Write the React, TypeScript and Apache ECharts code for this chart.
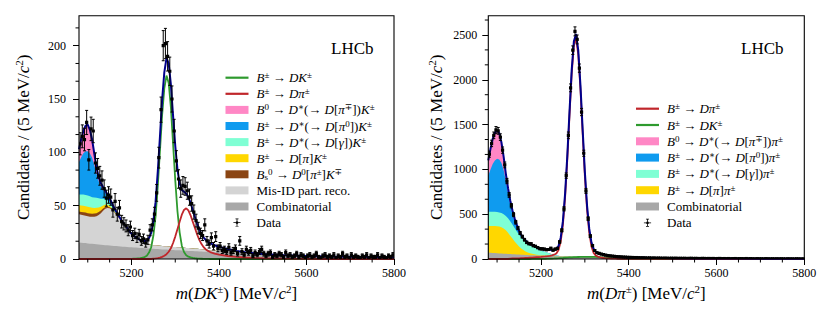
import React, { useEffect, useRef } from "react";
import * as echarts from "echarts";

const SERIF = '"Liberation Serif", "DejaVu Serif", serif';

// ---------------- axis ticks ----------------
const massMin = 5080;
const massMax = 5800;
const massTicks = [5200, 5400, 5600, 5800];
const massMinorTicks = [5100, 5150, 5250, 5300, 5350, 5450, 5500, 5550, 5650, 5700, 5750];
const dkYMax = 228.1;
const dkYTicks = [0, 50, 100, 150, 200];
const dkYMinorTicks = [16.67, 33.33, 66.67, 83.33, 116.67, 133.33, 166.67, 183.33, 216.67];
const dpiYMax = 2715;
const dpiYTicks = [0, 500, 1000, 1500, 2000, 2500];
const dpiYMinorTicks = [166.7, 333.3, 666.7, 833.3, 1166.7, 1333.3, 1666.7, 1833.3, 2166.7, 2333.3, 2666.7];

// ---------------- data (5 MeV bins, first centre 5082.5) ----------------
const binFirstCentre = 5082.5;
const binWidth = 5;
const dkCounts = [
  108, 115, 112, 128, 93, 122, 120, 90, 85, 78,
  74, 66, 57, 60, 58, 46, 54, 42, 48, 35,
  33, 31, 27, 30, 22, 24, 20, 23, 17, 19,
  15, 18, 27, 32, 42, 62, 95, 140, 200, 202,
  190, 176, 150, 120, 92, 75, 66, 69, 68, 64,
  58, 52, 44, 36, 29, 24, 22, 32, 17, 14,
  20, 12, 21, 10, 12, 8, 9, 7, 11, 6,
  8, 10, 5, 17, 7, 4, 9, 6, 8, 3,
  6, 4, 7, 9, 5, 3, 5, 6, 2, 4,
  3, 5, 4, 2, 6, 3, 4, 2, 3, 5,
  2, 4, 3, 1, 3, 4, 2, 3, 5, 2,
  1, 3, 4, 2, 3, 2, 4, 1, 3, 2,
  5, 2, 3, 1, 4, 2, 3, 2, 1, 3,
  2, 4, 1, 3, 2, 2, 4, 1, 3, 2,
  1, 3, 2, 4,
];
const dpiCounts = [
  1170, 1290, 1380, 1440, 1430, 1360, 1215, 1050, 870, 715,
  595, 495, 410, 345, 290, 250, 215, 185, 172, 168,
  150, 140, 128, 115, 112, 110, 103, 106, 120, 98,
  110, 118, 190, 320, 560, 930, 1380, 1910, 2330, 2540,
  2450, 2130, 1640, 1180, 760, 450, 255, 150, 95, 70,
  62, 55, 48, 43, 38, 35, 33, 30, 27, 25,
  24, 22, 21, 19, 18, 17, 16, 16, 15, 14,
  14, 13, 12, 13, 11, 12, 10, 11, 10, 9,
  10, 9, 8, 9, 8, 9, 7, 8, 7, 8,
  6, 7, 8, 6, 7, 6, 5, 7, 6, 5,
  6, 5, 6, 4, 5, 6, 4, 5, 4, 5,
  3, 4, 5, 3, 4, 4, 3, 5, 3, 4,
  3, 2, 4, 3, 3, 2, 4, 3, 2, 3,
  2, 3, 2, 3, 2, 1, 3, 2, 2, 1,
  3, 2, 1, 2,
];

// ---------------- fit components (sampled every 5 MeV to 5400, then tail masses) ----------------
const fineStep = 5;
const fineEnd = 5400;
const tailMasses = [5420, 5440, 5460, 5480, 5500, 5550, 5600, 5650, 5700, 5750, 5800];

// m(DK) panel
const dkCombinatorial = [
  15.5, 15.3, 15.1, 14.9, 14.6, 14.4, 14.2, 14.0, 13.8, 13.6,
  13.4, 13.2, 13.0, 12.8, 12.6, 12.5, 12.3, 12.1, 11.9, 11.8,
  11.6, 11.4, 11.3, 11.1, 11.0, 10.8, 10.7, 10.5, 10.4, 10.2,
  10.1, 9.9, 9.8, 9.7, 9.5, 9.4, 9.3, 9.1, 9.0, 8.9,
  8.8, 8.6, 8.5, 8.4, 8.3, 8.2, 8.1, 7.9, 7.8, 7.7,
  7.6, 7.5, 7.4, 7.3, 7.2, 7.1, 7.0, 6.9, 6.8, 6.7,
  6.6, 6.5, 6.4, 6.3, 6.2,
  5.6, 5.1, 4.7, 4.3, 4.0,
  3.3, 2.8, 2.4, 2.1, 1.9, 1.7,
];
const dkMisId = [
  26.5, 26.2, 26.0, 25.7, 25.4, 25.3, 25.3, 25.6, 26.2, 27.6,
  29.6, 32.0, 34.0, 34.9, 34.9, 33.8, 31.7, 29.5, 27.1, 24.7,
  22.4, 20.0, 17.7, 15.0, 12.5, 10.8, 9.3, 7.9, 6.6, 5.7,
  4.9, 4.3, 3.9, 3.7, 3.5, 3.4, 3.3, 3.25, 3.2, 3.15,
  3.1, 3.05, 3.0, 2.95, 2.9, 2.85, 2.8, 2.75, 2.7, 2.65,
  2.6, 2.55, 2.5, 2.4, 2.3, 2.2, 2.1, 2.0, 1.9, 1.8,
  1.7, 1.6, 1.5, 1.4, 1.3,
  0.9, 0.5, 0.3, 0.1,
];
const dkBs = [2.5, 2.6, 2.8, 2.9, 3.0, 3.0, 3.0, 3.0, 3.0, 2.8, 2.5, 2.2, 1.8, 1.4, 1.0, 0.7, 0.5, 0.35, 0.2, 0.1, 0];
const dkDpiK = [6.0, 6.0, 6.0, 6.0, 6.0, 5.8, 5.5, 5.3, 5.0, 4.3, 3.5, 2.8, 2.2, 1.7, 1.2, 0.9, 0.6, 0.45, 0.3, 0.2, 0.1, 0.05, 0];
const dkDstGammaK = [10.0, 10.3, 10.5, 10.5, 10.5, 10.3, 10.0, 9.8, 9.5, 8.6, 7.5, 6.2, 5.0, 4.0, 3.0, 2.2, 1.5, 1.0, 0.7, 0.5, 0.3, 0.2, 0.1, 0.05, 0];
const dkDstPi0K = [30.5, 35, 38.7, 41, 41.5, 40, 37, 30, 22.5, 16, 11.5, 8.5, 6, 4.2, 2.8, 1.8, 1.0, 0.7, 0.4, 0.2, 0.1];
const dkB0DstK = [12, 17, 21, 24, 25, 22, 17, 11, 5.5, 4, 3, 2.5, 2, 1.6, 1.2, 0.9, 0.6, 0.45, 0.3, 0.2, 0.1];
const dkSignalStart = 5200;
const dkSignal = [
  0.2, 0.3, 0.4, 0.6, 0.8, 1.2, 1.8, 3, 6, 11,
  22, 40, 68, 101, 135, 160, 172, 165, 142, 108,
  74, 45, 25, 12.5, 6.5, 3.5, 2.2, 1.5, 1.0, 0.7,
  0.5, 0.35, 0.25, 0.15, 0.1, 0.05,
];
const dkMisIdPiStart = 5250;
const dkMisIdPi = [
  0.3, 0.5, 0.8, 1.3, 2.0, 3.0, 4.5, 6.8, 10, 15,
  21, 28, 35, 41.5, 46, 47.5, 45.5, 41, 35, 29,
  23, 18, 14, 11, 9, 7.6, 6.5, 5.7, 5.0, 4.5, 4.0,
  2.8, 2.0, 1.4, 1.0, 0.7,
  0.3, 0.1,
];

// m(Dpi) panel
const dpiCombinatorial = [
  72, 70, 68, 66, 64, 62.5, 61, 59.5, 58, 56.5,
  55, 53.5, 52, 50.5, 49, 47.7, 46.5, 45.2, 44, 43,
  42, 41, 40, 39, 38, 37, 36, 35, 34, 33,
  32, 31.2, 30.5, 29.7, 29, 28.2, 27.5, 26.7, 26, 25.4,
  24.8, 24.1, 23.5, 22.9, 22.4, 21.8, 21.3, 20.8, 20.3, 19.8,
  19.3, 18.8, 18.4, 17.9, 17.5, 17.1, 16.7, 16.3, 15.9, 15.5,
  15.2, 14.8, 14.5, 14.1, 13.8,
  12.5, 11.4, 10.3, 9.4, 8.5,
  6.7, 5.3, 4.2, 3.3, 2.6, 2.0,
];
const dpiDpiPi = [
  295, 298, 300, 301, 302, 299.5, 294, 280.5, 262, 235.5,
  205, 174.5, 143, 115.5, 91, 70.3, 53.5, 39.8, 28, 21,
  16, 11, 8, 6, 4, 3, 2, 1.5, 1, 0.7,
  0.5, 0.3, 0.2, 0.2, 0.1,
];
const dpiDstGammaPi = [
  160, 160, 160, 160, 159, 158, 157, 160, 160, 163,
  160, 157, 150, 142, 132, 122, 112, 103, 91, 86,
  81, 75, 65, 56, 50, 45, 40, 33.5, 27, 19.3,
  12.5, 7.5, 4.3, 2.1, 1.4, 1.0, 0.7, 0.5, 0.4, 0.4,
  0.3, 0.3, 0.2, 0.2, 0.1,
];
const dpiDstPi0Pi = [
  403, 472, 532, 573, 595, 590, 558, 490, 390, 285,
  190, 120, 75, 45, 25, 13, 7, 4, 3, 2,
  1, 1, 1, 1, 1, 0.5, 0.5, 0.5, 0.5, 0.5,
  0.3,
];
const dpiB0DstPi = [
  170, 230, 280, 310, 315, 295, 230, 150, 80, 50,
  38, 32, 27, 20, 13, 7, 4, 2.5, 1.5, 0.8,
  0.4, 0.2,
];
const dpiSignalStart = 5130;
const dpiSignal = [
  5, 6, 7, 7.5, 8, 9, 10, 11.5, 13, 14.5,
  16, 18, 20, 22, 24, 26.5, 29, 32, 36, 41,
  48, 62, 100, 195, 380, 687, 1107, 1598, 2063, 2384,
  2465, 2280, 1888, 1398, 927, 550, 292, 140, 68, 38,
  26, 19, 14, 10.5, 8, 6.5, 5, 4, 3.3, 2.8,
  2.4, 2.1, 1.8, 1.6, 1.4,
  1, 0.7, 0.5, 0.4, 0.3,
  0.2, 0.1,
];
const dpiMisIdKStart = 5180;
const dpiMisIdK = [
  0.5, 0.7, 1, 1.3, 1.7, 2.2, 2.8, 3.5, 4.3, 5.3,
  6.4, 7.7, 9, 10.5, 12, 13.7, 15.3, 17, 18.6, 20,
  21.3, 22.4, 23.3, 24, 24.5, 24.8, 24.8, 24.5, 24, 23,
  22, 20.5, 19, 17.3, 15.5, 13.8, 12, 10.4, 9, 7.7,
  6.5, 5.5, 4.6, 3.8, 3.2,
  1.6, 0.8, 0.4, 0.2, 0.1,
];

// ---------------- names & colours ----------------
const N_DK = "B± → DK±";
const N_DPI = "B± → Dπ±";
const N_B0K = "B0 → D*(→ D[π∓])K±";
const N_PI0K = "B± → D*(→ D[π0])K±";
const N_GAMK = "B± → D*(→ D[γ])K±";
const N_DPIK = "B± → D[π]K±";
const N_BS = "Bs0 → D0[π±]K∓";
const N_MISID = "Mis-ID part. reco.";
const N_COMB = "Combinatorial";
const N_DATA = "Data";
const N_B0P = "B0 → D*(→ D[π∓])π±";
const N_PI0P = "B± → D*(→ D[π0])π±";
const N_GAMP = "B± → D*(→ D[γ])π±";
const N_DPIP = "B± → D[π]π±";

const richLabel: Record<string, string> = {
  [N_DK]: "{i|B}{p|±} → {i|DK}{p|±}",
  [N_DPI]: "{i|B}{p|±} → {i|Dπ}{p|±}",
  [N_B0K]: "{i|B}{p|0} → {i|D}{p|∗}(→ {i|D}[{i|π}{p|∓}]){i|K}{p|±}",
  [N_PI0K]: "{i|B}{p|±} → {i|D}{p|∗}(→ {i|D}[{i|π}{p|0}]){i|K}{p|±}",
  [N_GAMK]: "{i|B}{p|±} → {i|D}{p|∗}(→ {i|D}[{i|γ}]){i|K}{p|±}",
  [N_DPIK]: "{i|B}{p|±} → {i|D}[{i|π}]{i|K}{p|±}",
  [N_BS]: "{i|B}{b|s}{p|0} → {i|D}{p|0}[{i|π}{p|±}]{i|K}{p|∓}",
  [N_B0P]: "{i|B}{p|0} → {i|D}{p|∗}(→ {i|D}[{i|π}{p|∓}]){i|π}{p|±}",
  [N_PI0P]: "{i|B}{p|±} → {i|D}{p|∗}(→ {i|D}[{i|π}{p|0}]){i|π}{p|±}",
  [N_GAMP]: "{i|B}{p|±} → {i|D}{p|∗}(→ {i|D}[{i|γ}]){i|π}{p|±}",
  [N_DPIP]: "{i|B}{p|±} → {i|D}[{i|π}]{i|π}{p|±}",
};

const COL = {
  pink: "#ff87c5",
  blue: "#0f9bef",
  aqua: "#7fffd4",
  yellow: "#ffd700",
  brown: "#8b4513",
  misid: "#d4d4d4",
  comb: "#a8a8a8",
  green: "#2e9a2e",
  red: "#c0262b",
  navy: "#00008b",
};

// ---------------- helpers ----------------
const modelMasses: number[] = [];
for (let m = massMin; m <= fineEnd; m += fineStep) modelMasses.push(m);
modelMasses.push(...tailMasses);

function align(values: number[], start: number = massMin): number[] {
  const s = modelMasses.indexOf(start);
  return modelMasses.map((_, j) => (j >= s && j - s < values.length ? values[j - s] : 0));
}

type Layer = { name: string; color: string; values: number[] };

function buildPanel(
  xIdx: number,
  yIdx: number,
  layers: Layer[],
  lines: Layer[],
  counts: number[],
  yMinor: number[]
) {
  const series: any[] = [];
  let run = modelMasses.map(() => 0);
  const cumul: number[][] = [];
  for (const l of layers) {
    run = run.map((v, j) => v + l.values[j]);
    cumul.push(run);
  }
  for (let k = layers.length - 1; k >= 0; k--) {
    series.push({
      type: "line",
      name: layers[k].name,
      xAxisIndex: xIdx,
      yAxisIndex: yIdx,
      data: modelMasses.map((m, j) => [m, cumul[k][j]]),
      symbol: "none",
      lineStyle: { width: 0, color: layers[k].color },
      itemStyle: { color: layers[k].color },
      areaStyle: { color: layers[k].color, opacity: 1 },
      silent: true,
      z: 2,
    });
  }
  let total = run.slice();
  for (const l of lines) {
    total = total.map((v, j) => v + l.values[j]);
    series.push({
      type: "line",
      name: l.name,
      xAxisIndex: xIdx,
      yAxisIndex: yIdx,
      data: modelMasses.map((m, j) => [m, l.values[j]]),
      symbol: "none",
      lineStyle: { width: 1.8, color: l.color },
      itemStyle: { color: l.color },
      silent: true,
      z: 3,
    });
  }
  series.push({
    type: "line",
    name: "Total fit",
    xAxisIndex: xIdx,
    yAxisIndex: yIdx,
    data: modelMasses.map((m, j) => [m, total[j]]),
    symbol: "none",
    lineStyle: { width: 2, color: COL.navy },
    itemStyle: { color: COL.navy },
    silent: true,
    z: 4,
  });
  series.push({
    type: "custom",
    name: N_DATA,
    xAxisIndex: xIdx,
    yAxisIndex: yIdx,
    itemStyle: { color: "#000" },
    data: counts.map((n, i) => [binFirstCentre + i * binWidth, n, Math.sqrt(n)]),
    encode: { x: 0, y: 1 },
    clip: true,
    silent: true,
    z: 5,
    renderItem: (_p: any, api: any) => {
      const x = api.value(0);
      const y = api.value(1);
      const e = api.value(2);
      const c = api.coord([x, y]);
      const t = api.coord([x, y + e]);
      const b = api.coord([x, Math.max(0, y - e)]);
      const l = api.coord([x - binWidth / 2, y]);
      const r = api.coord([x + binWidth / 2, y]);
      const st = { stroke: "#000", lineWidth: 1 };
      return {
        type: "group",
        children: [
          { type: "line", shape: { x1: c[0], y1: t[1], x2: c[0], y2: b[1] }, style: st },
          { type: "line", shape: { x1: c[0] - 1.5, y1: t[1], x2: c[0] + 1.5, y2: t[1] }, style: st },
          { type: "line", shape: { x1: c[0] - 1.5, y1: b[1], x2: c[0] + 1.5, y2: b[1] }, style: st },
          { type: "line", shape: { x1: l[0], y1: c[1], x2: r[0], y2: c[1] }, style: st },
          { type: "rect", shape: { x: c[0] - 1.6, y: c[1] - 1.6, width: 3.2, height: 3.2 }, style: { fill: "#000" } },
        ],
      };
    },
  });
  // minor ticks drawn on the axes through the scales
  series.push({
    type: "custom",
    name: "minor ticks",
    xAxisIndex: xIdx,
    yAxisIndex: yIdx,
    silent: true,
    clip: false,
    z: 10,
    data: [...massMinorTicks.map((v) => [v, 0, 0]), ...yMinor.map((v) => [massMin, v, 1])],
    encode: { x: 0, y: 1 },
    renderItem: (_p: any, api: any) => {
      const p = api.coord([api.value(0), api.value(1)]);
      const vertical = api.value(2) === 0;
      return {
        type: "line",
        shape: vertical
          ? { x1: p[0], y1: p[1], x2: p[0], y2: p[1] + 3.5 }
          : { x1: p[0], y1: p[1], x2: p[0] - 3.5, y2: p[1] },
        style: { stroke: "#000", lineWidth: 1 },
      };
    },
  });
  return series;
}

const tickFont = { fontFamily: SERIF, fontSize: 12, color: "#000" };
const nameRich = {
  i: { fontFamily: SERIF, fontStyle: "italic", fontSize: 17, color: "#000", lineHeight: 20 },
  p: { fontFamily: SERIF, fontSize: 11, color: "#000", verticalAlign: "top", lineHeight: 11 },
};
const legendRich = {
  i: { fontFamily: SERIF, fontStyle: "italic", fontSize: 13, color: "#000", lineHeight: 14 },
  p: { fontFamily: SERIF, fontSize: 9, color: "#000", verticalAlign: "top", lineHeight: 8 },
  b: { fontFamily: SERIF, fontSize: 9, color: "#000", verticalAlign: "bottom", lineHeight: 8 },
};

const fmtTick = (v: number) => String(Math.round(v));

function xAxisFor(grid: number, name: string) {
  return {
    gridIndex: grid,
    type: "value",
    min: massMin,
    max: massMax,
    axisLine: { show: false },
    splitLine: { show: false },
    axisTick: { show: true, customValues: massTicks, length: 6, lineStyle: { color: "#000", width: 1 } },
    axisLabel: { customValues: massTicks, margin: 8, formatter: fmtTick, ...tickFont },
    name,
    nameLocation: "middle",
    nameGap: 24,
    nameTextStyle: { fontFamily: SERIF, fontSize: 17, color: "#000", lineHeight: 20, rich: nameRich },
    z: 10,
  };
}
function yAxisFor(grid: number, max: number, ticks: number[], gap: number, margin: number) {
  return {
    gridIndex: grid,
    type: "value",
    min: 0,
    max,
    position: "left",
    axisLine: { show: false },
    splitLine: { show: false },
    axisTick: { show: true, customValues: ticks, length: 6, lineStyle: { color: "#000", width: 1 } },
    axisLabel: { customValues: ticks, margin, formatter: fmtTick, ...tickFont },
    name: "Candidates / (5 MeV/{i|c}{p|2})",
    nameLocation: "middle",
    nameGap: gap,
    nameRotate: 90,
    nameTextStyle: { fontFamily: SERIF, fontSize: 17, color: "#000", lineHeight: 20, rich: nameRich },
    z: 10,
  };
}

const LINE_ICON = "path://M0,0H23V2.2H0Z";
const DATA_ICON =
  "path://M0,4.5H9V5.5H0Z M4,0H5V10H4Z M2.6,0H6.4V0.9H2.6Z M2.6,9.1H6.4V10H2.6Z M3.1,3.6H5.9V6.4H3.1Z";

function legendFor(left: number, top: number, gap: number, entries: [string, string][]) {
  return {
    orient: "vertical",
    left,
    top,
    padding: 0,
    itemWidth: 23,
    itemHeight: 8,
    itemGap: gap,
    selectedMode: false,
    itemStyle: { borderWidth: 0 },
    data: entries.map(([name, icon]) => ({ name, icon })),
    formatter: (n: string) => richLabel[n] ?? n,
    textStyle: { fontFamily: SERIF, fontSize: 13, color: "#000", lineHeight: 14, padding: [0, 0, 0, 3], rich: legendRich },
  };
}

const G = {
  l: { left: 79, top: 15.7, width: 315, height: 243.3 },
  r: { left: 488.3, top: 15.7, width: 316, height: 243.3 },
};

export default function App() {
  const ref = useRef<HTMLDivElement>(null);
  useEffect(() => {
    if (!ref.current) return;
    const chart = echarts.init(ref.current, null, { renderer: "svg" });

    const dkSeries = buildPanel(
      0,
      0,
      [
        { name: N_COMB, color: COL.comb, values: align(dkCombinatorial) },
        { name: N_MISID, color: COL.misid, values: align(dkMisId) },
        { name: N_BS, color: COL.brown, values: align(dkBs) },
        { name: N_DPIK, color: COL.yellow, values: align(dkDpiK) },
        { name: N_GAMK, color: COL.aqua, values: align(dkDstGammaK) },
        { name: N_PI0K, color: COL.blue, values: align(dkDstPi0K) },
        { name: N_B0K, color: COL.pink, values: align(dkB0DstK) },
      ],
      [
        { name: N_DK, color: COL.green, values: align(dkSignal, dkSignalStart) },
        { name: N_DPI, color: COL.red, values: align(dkMisIdPi, dkMisIdPiStart) },
      ],
      dkCounts,
      dkYMinorTicks
    );
    const dpiSeries = buildPanel(
      1,
      1,
      [
        { name: N_COMB, color: COL.comb, values: align(dpiCombinatorial) },
        { name: N_DPIP, color: COL.yellow, values: align(dpiDpiPi) },
        { name: N_GAMP, color: COL.aqua, values: align(dpiDstGammaPi) },
        { name: N_PI0P, color: COL.blue, values: align(dpiDstPi0Pi) },
        { name: N_B0P, color: COL.pink, values: align(dpiB0DstPi) },
      ],
      [
        { name: N_DK, color: COL.green, values: align(dpiMisIdK, dpiMisIdKStart) },
        { name: N_DPI, color: COL.red, values: align(dpiSignal, dpiSignalStart) },
      ],
      dpiCounts,
      dpiYMinorTicks
    );

    const frame = (g: any) => ({
      type: "rect",
      z: 100,
      silent: true,
      shape: { x: g.left, y: g.top, width: g.width, height: g.height },
      style: { fill: "none", stroke: "#000", lineWidth: 1.1 },
    });
    const lhcb = (x: number) => ({
      type: "text",
      z: 100,
      x,
      y: 48,
      style: { text: "LHCb", fontFamily: SERIF, fontSize: 17, fill: "#000", align: "left", verticalAlign: "middle" },
    });

    chart.setOption({
      animation: false,
      backgroundColor: "#fff",
      grid: [
        { ...G.l, show: false },
        { ...G.r, show: false },
      ],
      xAxis: [
        xAxisFor(0, "{i|m}({i|DK}{p|±}) [MeV/{i|c}{p|2}]"),
        xAxisFor(1, "{i|m}({i|Dπ}{p|±}) [MeV/{i|c}{p|2}]"),
      ],
      yAxis: [yAxisFor(0, dkYMax, dkYTicks, 46, 13), yAxisFor(1, dpiYMax, dpiYTicks, 42, 11)],
      legend: [
        legendFor(225.5, 70.7, 2.1, [
          [N_DK, LINE_ICON],
          [N_DPI, LINE_ICON],
          [N_B0K, "rect"],
          [N_PI0K, "rect"],
          [N_GAMK, "rect"],
          [N_DPIK, "rect"],
          [N_BS, "rect"],
          [N_MISID, "rect"],
          [N_COMB, "rect"],
          [N_DATA, DATA_ICON],
        ]),
        legendFor(636, 101.7, 2.3, [
          [N_DPI, LINE_ICON],
          [N_DK, LINE_ICON],
          [N_B0P, "rect"],
          [N_PI0P, "rect"],
          [N_GAMP, "rect"],
          [N_DPIP, "rect"],
          [N_COMB, "rect"],
          [N_DATA, DATA_ICON],
        ]),
      ],
      graphic: { elements: [frame(G.l), frame(G.r), lhcb(331), lhcb(741)] },
      series: [...dkSeries, ...dpiSeries],
    });
    return () => chart.dispose();
  }, []);
  return (
    <div
      ref={ref}
      style={{ position: "fixed", left: 0, top: 0, width: 830, height: 316, background: "#fff" }}
    />
  );
}
